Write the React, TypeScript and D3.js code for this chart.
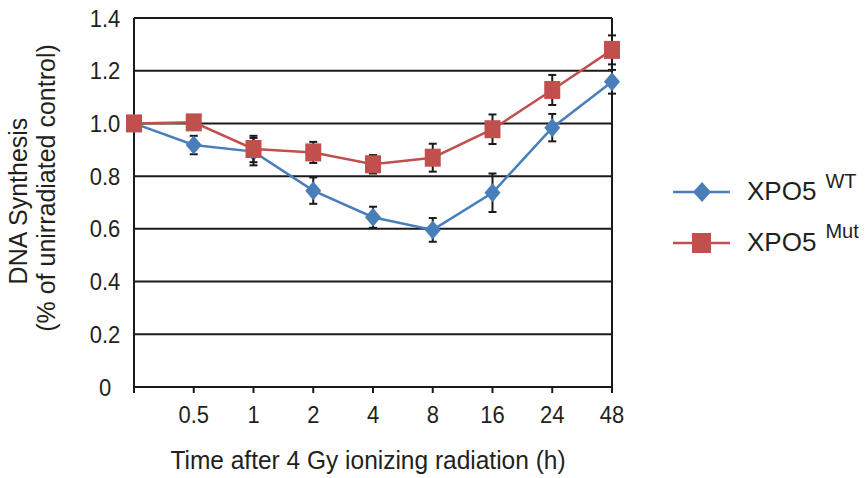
import React from "react";
import * as d3 from "d3";

const categories = ["0", "0.5", "1", "2", "4", "8", "16", "24", "48"];
const tickLabels = ["", "0.5", "1", "2", "4", "8", "16", "24", "48"];
const yTicks = [0, 0.2, 0.4, 0.6, 0.8, 1.0, 1.2, 1.4];
const yTickLabels = ["0", "0.2", "0.4", "0.6", "0.8", "1.0", "1.2", "1.4"];

const wtValues = [1.0, 0.918, 0.893, 0.745, 0.644, 0.596, 0.737, 0.984, 1.158];
const wtErrors = [0, 0.035, 0.052, 0.05, 0.04, 0.045, 0.073, 0.052, 0.045];
const mutValues = [1.0, 1.004, 0.903, 0.89, 0.845, 0.87, 0.978, 1.127, 1.279];
const mutErrors = [0, 0.02, 0.05, 0.04, 0.035, 0.053, 0.056, 0.057, 0.055];

const W = 866;
const H = 478;
const left = 134;
const right = 612;
const top = 18;
const bottom = 387;

const BLUE = "#4A7EBB";
const RED = "#C0504D";
const FONT = "Liberation Sans, Arial, sans-serif";

export default function App() {
  const x = d3.scalePoint<string>().domain(categories).range([left, right]).padding(0);
  const y = d3.scaleLinear().domain([0, 1.4]).range([bottom, top]);
  const line = d3
    .line<number>()
    .x((_, i) => x(categories[i]) as number)
    .y((d) => y(d));

  const errBars = (vals: number[], errs: number[], key: string) =>
    vals.map((v, i) =>
      errs[i] > 0 ? (
        <g key={key + i} stroke="#1a1a1a" strokeWidth={2}>
          <line x1={x(categories[i])} x2={x(categories[i])} y1={y(v + errs[i])} y2={y(v - errs[i])} />
          <line x1={(x(categories[i]) as number) - 4} x2={(x(categories[i]) as number) + 4} y1={y(v + errs[i])} y2={y(v + errs[i])} />
          <line x1={(x(categories[i]) as number) - 4} x2={(x(categories[i]) as number) + 4} y1={y(v - errs[i])} y2={y(v - errs[i])} />
        </g>
      ) : null
    );

  const diamond = (cx: number, cy: number, hw: number, hh: number) =>
    `M${cx},${cy - hh}L${cx + hw},${cy}L${cx},${cy + hh}L${cx - hw},${cy}Z`;

  return (
    <svg width={W} height={H} style={{ position: "absolute", left: 0, top: 0, background: "#fff" }} fontFamily={FONT}>
      {/* gridlines */}
      {yTicks.slice(1).map((t) => (
        <line key={"g" + t} x1={left} x2={right} y1={y(t)} y2={y(t)} stroke="#1a1a1a" strokeWidth={2} />
      ))}
      {/* axes */}
      <line x1={left} x2={left} y1={top} y2={bottom} stroke="#1a1a1a" strokeWidth={2} />
      <line x1={right} x2={right} y1={top} y2={bottom} stroke="#1a1a1a" strokeWidth={2} />
      <line x1={left - 1} x2={right + 1} y1={bottom} y2={bottom} stroke="#1a1a1a" strokeWidth={2} />
      {categories.map((c) => (
        <line key={"t" + c} x1={x(c)} x2={x(c)} y1={bottom} y2={bottom + 6} stroke="#1a1a1a" strokeWidth={2} />
      ))}
      {/* y tick labels */}
      {yTicks.map((t, i) => (
        <text key={"yl" + t} transform={`translate(105,${y(t)}) scale(1,1.08)`} dy="0.36em" textAnchor="middle" fontSize={22} fill="#231f20">
          {yTickLabels[i]}
        </text>
      ))}
      {/* x tick labels */}
      {categories.map((c, i) => (
        <text key={"xl" + c} transform={`translate(${x(c)},422.5) scale(1,1.08)`} textAnchor="middle" fontSize={22} fill="#231f20">
          {tickLabels[i]}
        </text>
      ))}
      {/* axis titles */}
      <text transform="translate(368,469) scale(1,1.05)" textAnchor="middle" fontSize={24.5} fill="#231f20">
        Time after 4 Gy ionizing radiation (h)
      </text>
      <text transform="translate(27,201) rotate(-90)" textAnchor="middle" fontSize={25} fill="#231f20">
        DNA Synthesis
      </text>
      <text transform="translate(55,188) rotate(-90)" textAnchor="middle" fontSize={25} fill="#231f20">
        (% of unirradiated control)
      </text>

      {/* WT series */}
      <path d={line(wtValues) as string} fill="none" stroke={BLUE} strokeWidth={2.5} />
      {errBars(wtValues, wtErrors, "we")}
      {wtValues.map((v, i) => (
        <path key={"wd" + i} d={diamond(x(categories[i]) as number, y(v), 8, 9.5)} fill={BLUE} />
      ))}

      {/* Mut series */}
      <path d={line(mutValues) as string} fill="none" stroke={RED} strokeWidth={2.5} />
      {errBars(mutValues, mutErrors, "me")}
      {mutValues.map((v, i) => (
        <rect key={"ms" + i} x={(x(categories[i]) as number) - 8} y={y(v) - 9} width={16} height={18} fill={RED} />
      ))}

      {/* legend */}
      <line x1={673} x2={730} y1={192} y2={192} stroke={BLUE} strokeWidth={2.5} />
      <path d={diamond(702, 192, 9, 10)} fill={BLUE} />
      <text x={747} y={200} fontSize={26} fill="#231f20">
        XPO5
        <tspan dx={9} dy={-12} fontSize={20}>WT</tspan>
      </text>
      <line x1={673} x2={730} y1={243} y2={243} stroke={RED} strokeWidth={2.5} />
      <rect x={692} y={233} width={19} height={20} fill={RED} />
      <text x={747} y={251} fontSize={26} fill="#231f20">
        XPO5
        <tspan dx={9} dy={-13} fontSize={20}>Mut</tspan>
      </text>
    </svg>
  );
}
